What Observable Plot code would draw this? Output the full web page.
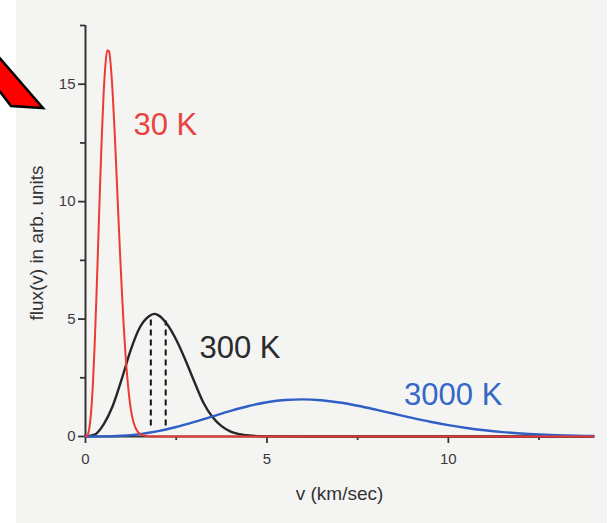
<!DOCTYPE html>
<html>
<head>
<meta charset="utf-8">
<script src="https://cdn.jsdelivr.net/npm/d3@7"></script>
<script src="https://cdn.jsdelivr.net/npm/@observablehq/plot@0.6"></script>
<style>
  html, body { margin: 0; padding: 0; background: #ffffff; }
  #wrap { position: relative; width: 614px; height: 523px; overflow: hidden; }
  #paper { position: absolute; left: 16px; top: 0; width: 591px; height: 523px; background: #f4f4f3; }
  #chart { position: absolute; left: 0; top: 0; }
  #arrow { position: absolute; left: 0; top: 0; }
</style>
</head>
<body>
<div id="wrap">
  <div id="paper"></div>
  <div id="chart"></div>
  <svg id="arrow" width="80" height="130" viewBox="0 0 80 130">
    <polygon points="-2,56 43,108 11,106 -2,89" fill="#ff0000" stroke="#000" stroke-width="2.5" stroke-linejoin="miter"/>
  </svg>
</div>
<script>
// velocity (km/sec) samples and flux values
const vRed = [0, 0.05, 0.1, 0.15, 0.2, 0.25, 0.3, 0.35, 0.4, 0.45, 0.5, 0.55, 0.6, 0.65, 0.7, 0.75, 0.8, 0.85, 0.9, 0.95, 1.0, 1.05, 1.1, 1.15, 1.2, 1.25, 1.3, 1.35, 1.4, 1.5, 1.6, 1.8, 2.0, 4, 8, 14];
const fluxRed = [0, 0.04, 0.3, 0.96, 2.12, 3.8, 5.9, 8.25, 10.64, 12.83, 14.62, 15.85, 16.45, 16.39, 15.73, 14.58, 13.07, 11.37, 9.59, 7.86, 6.26, 4.8, 3.55, 2.55, 1.75, 1.15, 0.75, 0.48, 0.3, 0.11, 0.04, 0.005, 0, 0, 0, 0];

const vBlack = [0, 0.25, 0.5, 0.75, 1.0, 1.25, 1.5, 1.75, 1.89, 2.0, 2.25, 2.5, 2.75, 3.0, 3.25, 3.5, 3.75, 4.0, 4.25, 4.5, 4.75, 5.0, 6, 8, 14];
const fluxBlack = [0, 0.08, 0.52, 1.3, 2.45, 3.7, 4.65, 5.12, 5.22, 5.17, 4.78, 4.12, 3.27, 2.33, 1.44, 0.83, 0.44, 0.21, 0.1, 0.045, 0.018, 0.006, 0, 0, 0];

const vBlue = [0, 0.5, 1, 1.5, 2, 2.5, 3, 3.5, 4, 4.5, 5, 5.5, 6, 6.5, 7, 7.5, 8, 8.5, 9, 9.5, 10, 10.5, 11, 11.5, 12, 12.5, 13, 13.5, 14];
const fluxBlue = [0, 0.004, 0.032, 0.103, 0.227, 0.403, 0.62, 0.858, 1.092, 1.299, 1.457, 1.552, 1.58, 1.542, 1.446, 1.308, 1.143, 0.967, 0.792, 0.629, 0.486, 0.364, 0.266, 0.188, 0.13, 0.088, 0.057, 0.037, 0.023];

// dashed markers under the 300 K curve
const dashV = [1.8, 2.21];
const dashTop = [5.0, 4.92];
const dashBottom = [0.45, 0.45];

// curve labels
const labelText = ["30 K", "300 K", "3000 K"];
const labelV = [1.32, 3.14, 8.78];
const labelF = [12.84, 3.35, 1.35];
const labelColor = ["#e8443e", "#2b2b2b", "#3468c6"];

// axes
const xMajor = [0, 5, 10];
const xMinor = [2.5, 7.5, 12.5];
const yMajor = [0, 5, 10, 15];
const yMinor = [2.5, 7.5, 12.5, 17.5];
const xDomain = [0, 14];
const yDomain = [0, 17.5];
const xTitle = "v (km/sec)";
const yTitle = "flux(v) in arb. units";

const red = vRed.map((v, i) => ({v, f: fluxRed[i]}));
const black = vBlack.map((v, i) => ({v, f: fluxBlack[i]}));
const blue = vBlue.map((v, i) => ({v, f: fluxBlue[i]}));
const dashes = dashV.map((v, i) => ({v, y1: dashBottom[i], y2: dashTop[i]}));
const labels = labelText.map((t, i) => ({t, v: labelV[i], f: labelF[i], c: labelColor[i]}));

const axisColor = "#353535";
const font = "'Liberation Sans', Arial, Helvetica, sans-serif";

const chart = Plot.plot({
  width: 614,
  height: 523,
  marginLeft: 85,
  marginRight: 21,
  marginTop: 25,
  marginBottom: 87,
  style: {background: "transparent", fontFamily: font, color: axisColor, overflow: "visible"},
  x: {domain: xDomain},
  y: {domain: yDomain},
  marks: [
    Plot.axisX({ticks: xMajor, tickSize: 7, tickPadding: 10, fontSize: 15, strokeWidth: 1.8, stroke: axisColor, fill: "#3a3a3a", label: null}),
    Plot.axisX({ticks: xMinor, tickSize: 4, tickFormat: () => "", strokeWidth: 1.8, stroke: axisColor, label: null}),
    Plot.axisY({ticks: yMajor, tickSize: 7, tickPadding: 3, fontSize: 15, strokeWidth: 1.8, stroke: axisColor, fill: "#3a3a3a", label: null}),
    Plot.axisY({ticks: yMinor, tickSize: 5, tickFormat: () => "", strokeWidth: 1.8, stroke: axisColor, label: null}),
    Plot.ruleX([0], {y1: yDomain[0], y2: yDomain[1], stroke: axisColor, strokeWidth: 2}),
    Plot.ruleY([0], {x1: xDomain[0], x2: xDomain[1], stroke: axisColor, strokeWidth: 2}),
    Plot.ruleX(dashes, {x: "v", y1: "y1", y2: "y2", stroke: "#111", strokeWidth: 2, strokeDasharray: "6,4"}),
    Plot.line(black, {x: "v", y: "f", stroke: "#262626", strokeWidth: 2.4, curve: "monotone-x"}),
    Plot.line(blue, {x: "v", y: "f", stroke: "#2f5fc4", strokeWidth: 2.4, curve: "monotone-x"}),
    Plot.line(red, {x: "v", y: "f", stroke: "#ee3a36", strokeWidth: 2, curve: "monotone-x"}),
    Plot.text(labels, {x: "v", y: "f", text: "t", fill: "c", fontSize: 31, textAnchor: "start", lineAnchor: "bottom"}),
    Plot.text([xTitle], {frameAnchor: "bottom", textAnchor: "middle", lineAnchor: "bottom", dy: 63, fontSize: 19, fill: "#333"}),
    Plot.text([yTitle], {frameAnchor: "left", textAnchor: "middle", lineAnchor: "bottom", dx: -43, dy: 12, rotate: -90, fontSize: 19, fill: "#333"})
  ]
});
document.getElementById("chart").appendChild(chart);
</script>
</body>
</html>
